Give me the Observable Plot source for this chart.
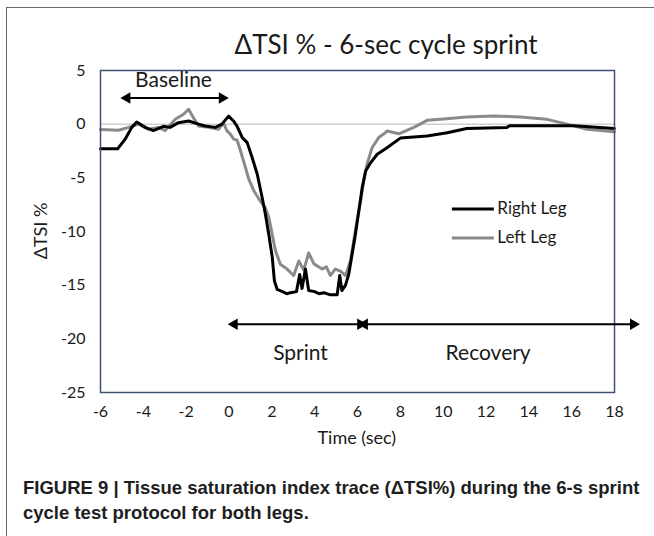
<!DOCTYPE html>
<html>
<head>
<meta charset="utf-8">
<script src="https://cdn.jsdelivr.net/npm/d3@7"></script>
<script src="https://cdn.jsdelivr.net/npm/@observablehq/plot@0.6"></script>
<style>
  html, body { margin: 0; padding: 0; background: #fff; }
  #wrap { position: relative; width: 654px; height: 536px; overflow: hidden; background: #fff; }
  #wrap svg { position: absolute; left: 0; top: 0; }
  .abs { position: absolute; white-space: nowrap; }
  #title { font-family: Lato, sans-serif; font-size: 26px; color: #1a1a1a; }
  #ylab { font-family: Lato, sans-serif; font-size: 18px; color: #1a1a1a; transform-origin: center center; }
  #xlab { font-family: Lato, sans-serif; font-size: 18px; color: #1a1a1a; }
  #caption { font-family: "Liberation Sans", Arial, sans-serif; font-weight: bold; font-size: 18.5px; color: #1e1e1e; line-height: 25px; }
  #frameTop { position: absolute; left: 7px; top: 7px; width: 647px; height: 0; border-top: 1.5px solid #6a6a6a; }
  #frameLeft { position: absolute; left: 6px; top: 7px; width: 0; height: 529px; border-left: 1.5px solid #6a6a6a; }
</style>
</head>
<body>
<div id="wrap">
  <div id="frameTop"></div>
  <div id="frameLeft"></div>
</div>
<script>
// ---- Data ----
const rightTime = [-6, -5.2, -4.85, -4.54, -4.31, -3.91, -3.53, -3.06, -2.75, -2.36, -1.89, -1.42, -1.11, -0.64, -0.33, -0.02, 0.21, 0.38, 0.62, 0.85, 1.08, 1.32, 1.55, 1.70, 1.86, 2.02, 2.12, 2.25, 2.5, 2.7, 2.87, 3.15, 3.30, 3.41, 3.57, 3.72, 4.0, 4.2, 4.42, 4.73, 5.05, 5.17, 5.27, 5.44, 5.59, 5.75, 5.90, 6.06, 6.22, 6.38, 6.61, 6.92, 7.38, 8.0, 9.25, 10.19, 11.1, 12.98, 13.1, 16.1, 18];
const rightTSI  = [-2.3, -2.3, -1.4, -0.3, 0.2, -0.3, -0.6, -0.2, -0.3, 0.14, 0.3, 0.0, -0.17, -0.3, 0.0, 0.75, 0.3, -0.2, -1.25, -1.72, -3.1, -4.67, -6.85, -8.4, -10.3, -12.4, -14.6, -15.4, -15.6, -15.8, -15.7, -15.6, -14.0, -15.3, -13.5, -15.5, -15.6, -15.8, -15.7, -15.9, -15.9, -14.1, -15.5, -15.0, -14.0, -12.1, -10.3, -8.1, -5.9, -4.36, -3.6, -2.8, -2.2, -1.3, -1.1, -0.8, -0.4, -0.3, -0.15, -0.15, -0.4];

const leftTime = [-6, -5.16, -4.69, -4.23, -3.76, -3.29, -2.98, -2.51, -2.12, -1.89, -1.66, -1.42, -0.96, -0.49, -0.25, -0.1, 0.07, 0.22, 0.38, 0.54, 0.77, 0.92, 1.16, 1.47, 1.70, 1.86, 2.02, 2.17, 2.40, 2.71, 3.02, 3.26, 3.49, 3.72, 3.96, 4.35, 4.55, 4.73, 4.96, 5.2, 5.44, 5.67, 5.82, 5.98, 6.14, 6.29, 6.45, 6.68, 6.99, 7.3, 7.38, 7.93, 8.63, 9.25, 9.88, 11.1, 12.36, 13.6, 14.85, 15.78, 16.71, 18];
const leftTSI  = [-0.5, -0.57, -0.3, 0.0, -0.48, -0.3, -0.6, 0.45, 0.92, 1.39, 0.6, -0.17, -0.3, -0.48, 0.1, -0.6, -0.95, -1.4, -1.5, -2.5, -4.05, -5.1, -6.2, -7.2, -7.8, -8.7, -10.3, -11.8, -13.06, -13.5, -14.1, -12.75, -13.6, -12.0, -13.0, -13.5, -13.3, -14.1, -13.5, -13.7, -14.1, -12.75, -10.9, -9.0, -7.2, -5.3, -3.7, -2.2, -1.25, -0.8, -0.63, -0.9, -0.3, 0.36, 0.45, 0.67, 0.76, 0.67, 0.45, 0.0, -0.48, -0.7];

const xTicks = [-6, -4, -2, 0, 2, 4, 6, 8, 10, 12, 14, 16, 18];
const yTicks = [-25, -20, -15, -10, -5, 0, 5];

// annotation phases (data units)
const phaseNames = ["Baseline", "Sprint", "Recovery"];
const phaseStart = [-4.76, 0.25, 6.33];
const phaseEnd   = [-0.32, 6.14, 18.88];
const phaseArrowY = [2.44, -18.65, -18.65];
const phaseLabelX = [-2.59, 3.34, 12.1];
const phaseLabelY = [4.1, -21.3, -21.3];

// legend
const legendNames = ["Right Leg", "Left Leg"];
const legendColors = ["#000000", "#8a8a8a"];
const legendY = [-7.9, -10.6];
const legendX1 = 10.43, legendX2 = 12.39;

// ---- Build ----
const rows = [
  ...rightTime.map((t, i) => ({t, v: rightTSI[i], s: "Right Leg"})),
  ...leftTime.map((t, i) => ({t, v: leftTSI[i], s: "Left Leg"}))
];
const phases = phaseNames.map((name, i) => ({name, x1: phaseStart[i], x2: phaseEnd[i], y: phaseArrowY[i], lx: phaseLabelX[i], ly: phaseLabelY[i]}));
const heads = phases.flatMap(p => [{x: p.x1, y: p.y, r: -90}, {x: p.x2, y: p.y, r: 90}]);
const legend = legendNames.map((name, i) => ({name, color: legendColors[i], y: legendY[i]}));
const fmt = d => String(d);

const plot = Plot.plot({
  width: 654,
  height: 536,
  marginLeft: 100,
  marginRight: 40,
  marginTop: 70,
  marginBottom: 144,
  style: {fontFamily: "Lato, sans-serif", fontSize: "16px", color: "#1a1a1a", background: "transparent"},
  x: {domain: [-6, 18], ticks: xTicks, tickFormat: fmt, tickSize: 0, tickPadding: 13, label: null},
  y: {domain: [-25, 5], ticks: yTicks, tickFormat: fmt, tickSize: 0, tickPadding: 15, label: null},
  marks: [
    Plot.ruleY([0], {stroke: "#cfcfcf", strokeWidth: 1.5}),
    Plot.line(rows.filter(d => d.s === "Left Leg"), {x: "t", y: "v", stroke: "#8a8a8a", strokeWidth: 3, curve: "linear"}),
    Plot.line(rows.filter(d => d.s === "Right Leg"), {x: "t", y: "v", stroke: "#000000", strokeWidth: 3, curve: "linear"}),
    Plot.frame({stroke: "#3f5172", strokeWidth: 1.5}),
    // phase arrows
    Plot.link(phases, {x1: "x1", x2: "x2", y1: "y", y2: "y", stroke: "#000", strokeWidth: 2, clip: false}),
    Plot.dot(heads, {x: "x", y: "y", rotate: "r", symbol: "triangle2", r: 5.5, fill: "#000", stroke: "none"}),
    Plot.text(phases, {x: "lx", y: "ly", text: "name", fontSize: 21, fill: "#1a1a1a"}),
    // legend
    Plot.ruleY(legend, {y: "y", x1: legendX1, x2: legendX2, stroke: "color", strokeWidth: 3}),
    Plot.text(legend, {x: legendX2, y: "y", text: "name", textAnchor: "start", dx: 3, fontSize: 17, fill: "#1a1a1a"})
  ]
});
const wrap = document.getElementById("wrap");
wrap.appendChild(plot);

function addText(id, html, css) {
  const d = document.createElement("div");
  d.id = id; d.className = "abs"; d.innerHTML = html;
  Object.assign(d.style, css);
  wrap.appendChild(d);
  return d;
}
const title = addText("title", "ΔTSI % - 6-sec cycle sprint", {left: "0px", top: "0px"});
title.style.left = (386 - title.offsetWidth / 2) + "px";
title.style.top = (44 - title.offsetHeight / 2) + "px";

const xlab = addText("xlab", "Time (sec)", {});
xlab.style.left = (357 - xlab.offsetWidth / 2) + "px";
xlab.style.top = (437 - xlab.offsetHeight / 2) + "px";

const ylab = addText("ylab", "ΔTSI %", {});
ylab.style.left = (40 - ylab.offsetWidth / 2) + "px";
ylab.style.top = (231 - ylab.offsetHeight / 2) + "px";
ylab.style.transform = "rotate(-90deg)";

const cap = addText("caption", "FIGURE 9 | Tissue saturation index trace (ΔTSI%) during the 6-s sprint<br>cycle test protocol for both legs.", {left: "23px", top: "475px"});
</script>
</body>
</html>
